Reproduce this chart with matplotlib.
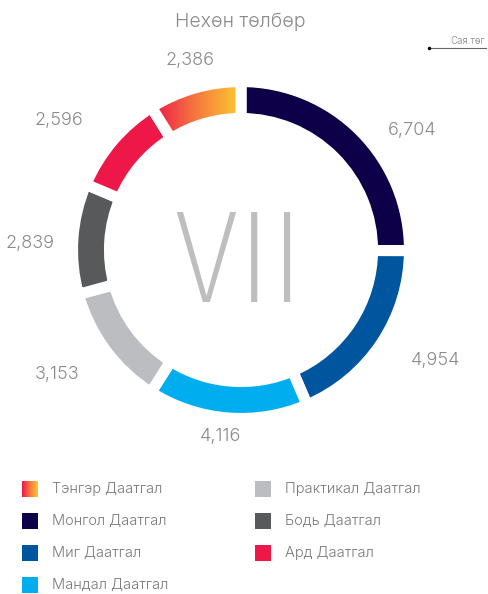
import numpy as np
import matplotlib as mpl
mpl.use('Agg')
from matplotlib import pyplot as plt
from matplotlib.patches import Rectangle
from matplotlib.colors import LinearSegmentedColormap

names = ['Тэнгэр Даатгал', 'Монгол Даатгал', 'Миг Даатгал', 'Мандал Даатгал',
         'Практикал Даатгал', 'Бодь Даатгал', 'Ард Даатгал']
values = [2386, 6704, 4954, 4116, 3153, 2839, 2596]
colors = ['#ED1848', '#0D0048', '#00569E', '#00AEEF', '#BCBDC0', '#58595B', '#ED1848']
grad = ['#ED1848', '#F6783F', '#FDC82F']

title = 'Нехөн төлбөр'
unit = 'Сая.төг'
center_text = 'VII'

plt.rcParams['font.family'] = ['Inter', 'DejaVu Sans']
W, H = 488, 594
fig = plt.figure(figsize=(W / 100, H / 100), dpi=100)
ax = fig.add_axes([0, 0, 1, 1])

cx, cy = 241, H - 250
R, ring = 168.5, 37
start = 90 + 360 * values[0] / sum(values)
wedges, _ = ax.pie(values, colors=colors, startangle=start, counterclock=False,
                   center=(cx, cy), radius=R,
                   wedgeprops=dict(width=ring, edgecolor='white', linewidth=8))
ax.set_aspect('equal')
ax.axis('off')

# gradient fill for the first wedge
cmap = LinearSegmentedColormap.from_list('tg', grad)
g = np.linspace(0, 1, 256).reshape(1, -1)
w0 = wedges[0]
w0.set_facecolor('none')
w0.set_zorder(3)
im = ax.imshow(g, cmap=cmap, extent=(cx - 88, cx - 2, cy + 80, cy + 175),
               aspect='auto', zorder=2)
im.set_clip_path(w0)

# value labels: angle nudge (deg) and distance (px) from the centre
nudge = [-1, -10, 4, -1.6, -2.4, 2, 5]
dist = [196, 209, 224, 188, 222, 211, 224]
for w, v, d, r in zip(wedges, values, nudge, dist):
    a = np.deg2rad((w.theta1 + w.theta2) / 2 + d)
    ax.text(cx + r * np.cos(a), cy + r * np.sin(a), f'{v:,}', ha='center', va='center',
            fontsize=13, color='#8A8A8A', fontweight=300)

ax.text(cx - 2, H - 302, center_text, ha='center', va='baseline', fontsize=94,
        color='#BDBEC0', fontweight=275, family=['Fira Sans Condensed', 'DejaVu Sans'])
ax.text(240, H - 22, title, ha='center', va='center', fontsize=14, color='#8A8A8A',
        fontweight=300)
ax.text(485, H - 41, unit, ha='right', va='center', fontsize=7, color='#888888',
        fontweight=300)
ax.plot([429, 486], [H - 48, H - 48], color='#666666', lw=0.8)
ax.plot([429], [H - 48], marker='o', ms=1.5, color='black')

# legend
for i, (n, c) in enumerate(zip(names, colors)):
    col, row = (0, i) if i < 4 else (1, i - 4)
    x0 = 22 + col * 233
    y0 = H - (489 + row * 32)
    if i == 0:
        ax.imshow(g, cmap=cmap, extent=(x0, x0 + 16, y0 - 8, y0 + 8),
                  aspect='auto', zorder=2)
    else:
        ax.add_patch(Rectangle((x0, y0 - 8), 16, 16, color=c, lw=0))
    ax.text(x0 + 30, y0, n, ha='left', va='center', fontsize=10.5, color='#7A7A7A',
            fontweight=300)

ax.set_xlim(0, W)
ax.set_ylim(0, H)
fig.savefig('out.png', dpi=100)
